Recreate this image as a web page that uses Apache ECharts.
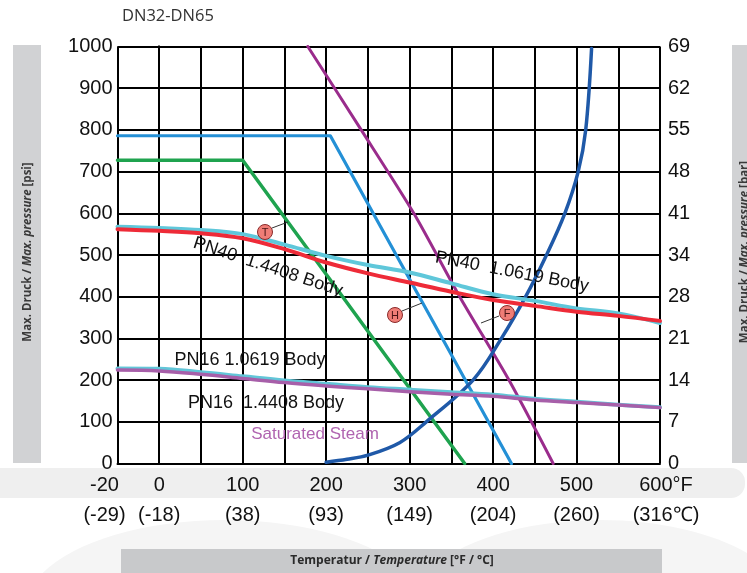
<!DOCTYPE html>
<html><head><meta charset="utf-8">
<script src="https://cdn.jsdelivr.net/npm/echarts@6/dist/echarts.min.js"></script>
<style>html,body{margin:0;padding:0;background:#fff}#c{width:747px;height:573px}</style>
</head><body><div id="c"></div>
<script>
// ---- data (°F / psi) ----
const tempTicksF = [-20, 0, 100, 200, 300, 400, 500, 600];
const tempTicksC = [-29, -18, 38, 93, 149, 204, 260, 316];
const psiTicks = [0, 100, 200, 300, 400, 500, 600, 700, 800, 900, 1000];
const barTicks = [0, 7, 14, 21, 28, 34, 41, 48, 55, 62, 69];

const pnT = [-20, 0, 50, 100, 150, 200, 250, 300, 350, 400, 450, 500, 550, 600];
const pn40_14408 = [562, 558, 552, 540, 514, 482, 456, 434, 412, 392, 378, 364, 354, 342];
const pn40_10619 = [568, 565, 560, 550, 525, 498, 476, 458, 432, 406, 390, 372, 360, 337];
const pn16_10619 = [228, 227, 219, 209, 199, 191, 183, 177, 171, 165, 155, 148, 141, 135];
const pn16_14408 = [224, 222, 214, 204, 194, 186, 179, 172, 166, 161, 152, 146, 140, 134];

const limitT_T = [-20, 205, 422];      // blue limit
const limitT_P = [786, 786, 0];
const limitG_T = [-20, 100, 366];      // green limit
const limitG_P = [727, 727, 0];
const limitP_T = [178, 242, 305, 360, 419, 472]; // purple limit
const limitP_P = [1000, 800, 600, 400, 200, 0];

const steamT = [200, 225, 250, 288, 320, 376, 410, 439, 464, 486, 502, 511, 518];
const steamP = [3, 10, 20, 50, 100, 200, 300, 400, 500, 600, 700, 800, 995];

// axis position: below 0 °F the scale is stretched (-20 sits one grid cell left of 0)
const xp = t => (t < 0 ? t * 2.5 : t);
const pairs = (T, P) => T.map((t, i) => [xp(t), P[i]]);

const chart = echarts.init(document.getElementById('c'), null, {renderer: 'canvas'});
const FONT = '"Liberation Sans", Arial, sans-serif';
const OS = '"Open Sans", sans-serif';

function line(name, T, P, color, width, smooth, z) {
  return {
    name, type: 'line', data: pairs(T, P), showSymbol: false, symbol: 'none',
    smooth: smooth, z: z || 3, silent: true,
    lineStyle: {color, width, cap: 'round', join: 'round'}
  };
}

function tempLabel(i) {
  const last = i === tempTicksF.length - 1;
  const a = tempTicksF[i] + (last ? '°F' : '');
  const b = '(' + tempTicksC[i] + (last ? '℃' : '') + ')';
  return last ? '{r|' + a + '}\n{r|' + b + '}' : a + '\n' + b;
}

const axisTitleRich = {
  b: {fontSize: 11.5, fontWeight: 'bold', fontFamily: OS, fill: '#3a3a3a'},
  i: {fontSize: 11.5, fontWeight: 'bold', fontStyle: 'italic', fontFamily: OS, fill: '#3a3a3a'}
};

const xLabelBase = {margin: 7, color: '#111', fontSize: 20, fontFamily: FONT, lineHeight: 30};

const option = {
  animation: false,
  grid: {left: 117.5, right: 87, top: 46.5, bottom: 109.5, containLabel: false},
  xAxis: [{
    type: 'value', min: -50, max: 600, interval: 50,
    axisLine: {show: true, lineStyle: {color: '#000', width: 2}},
    axisTick: {show: false},
    splitLine: {show: true, lineStyle: {color: '#000', width: 2}},
    axisLabel: Object.assign({}, xLabelBase, {
      showMinLabel: true, showMaxLabel: true,
      rich: {r: {fontSize: 20, fontFamily: FONT, lineHeight: 30, color: '#111', padding: [0, 0, 0, 12]}},
      formatter: function (v) {
        const i = tempTicksF.findIndex(f => xp(f) === v);
        if (i <= 0) return '';
        return tempLabel(i);
      }
    })
  }, {
    // carries only the first (-20 °F) label, which sits slightly left of its grid line
    type: 'value', min: -50, max: 600, interval: 50, position: 'bottom',
    axisLine: {show: false}, axisTick: {show: false}, splitLine: {show: false},
    axisLabel: Object.assign({}, xLabelBase, {
      showMinLabel: true, padding: [0, 26, 0, 0],
      formatter: v => (v === xp(tempTicksF[0]) ? tempLabel(0) : '')
    })
  }],
  yAxis: [{
    type: 'value', min: 0, max: 1000, interval: 100,
    axisLine: {show: true, lineStyle: {color: '#000', width: 2}},
    axisTick: {show: false},
    splitLine: {show: true, lineStyle: {color: '#000', width: 2}},
    axisLabel: {margin: 5, color: '#111', fontSize: 20, fontFamily: FONT, showMinLabel: true, showMaxLabel: true,
      formatter: v => (psiTicks.indexOf(v) >= 0 ? String(v) : '')}
  }, {
    type: 'value', min: 0, max: 1000, interval: 100, position: 'right',
    axisLine: {show: true, lineStyle: {color: '#000', width: 2}},
    axisTick: {show: false},
    splitLine: {show: false},
    axisLabel: {margin: 8, color: '#111', fontSize: 20, fontFamily: FONT, showMinLabel: true, showMaxLabel: true,
      formatter: v => { const i = psiTicks.indexOf(v); return i >= 0 ? String(barTicks[i]) : ''; }}
  }],
  series: [
    line('limit blue', limitT_T, limitT_P, '#2490d6', 3.2, false, 3),
    line('limit green', limitG_T, limitG_P, '#1fa34f', 3.5, false, 3),
    line('limit purple', limitP_T, limitP_P, '#9a2c8c', 3, 0.25, 3),
    line('Saturated Steam', steamT, steamP, '#1f59a8', 3.5, 0.35, 4),
    line('PN40 1.0619 Body', pnT, pn40_10619, '#5fc7da', 4, 0.35, 5),
    line('PN40 1.4408 Body', pnT, pn40_14408, '#ee2b38', 4, 0.35, 6),
    line('PN16 1.0619 Body', pnT, pn16_10619, '#62c6d8', 4, 0.35, 5),
    line('PN16 1.4408 Body', pnT, pn16_14408, '#a75fa9', 3.5, 0.35, 6)
  ],
  graphic: [
    // background decoration
    {type: 'ellipse', z: -11, shape: {cx: 225, cy: 610, rx: 200, ry: 90}, style: {fill: '#f5f5f5'}, silent: true},
    {type: 'ellipse', z: -11, shape: {cx: 600, cy: 610, rx: 190, ry: 90}, style: {fill: '#f5f5f5'}, silent: true},
    {type: 'rect', z: -10, shape: {x: -20, y: 468, width: 765, height: 30, r: 14}, style: {fill: '#efefef'}, silent: true},
    {type: 'rect', z: -9, shape: {x: 13, y: 45, width: 28, height: 418}, style: {fill: '#d1d2d4'}, silent: true},
    {type: 'rect', z: -9, shape: {x: 732, y: 45, width: 20, height: 418}, style: {fill: '#d1d2d4'}, silent: true},
    {type: 'rect', z: -9, shape: {x: 121, y: 549, width: 541, height: 30}, style: {fill: '#c8c9cb'}, silent: true},
    // axis titles
    {type: 'text', x: 28, y: 252, rotation: Math.PI / 2, z: 10,
      style: {text: '{b|Max. Druck / }{i|Max. pressure}{b| [psi]}', align: 'center', verticalAlign: 'middle', rich: axisTitleRich}},
    {type: 'text', x: 745, y: 252, rotation: Math.PI / 2, z: 10,
      style: {text: '{b|Max. Druck / }{i|Max. pressure}{b| [bar]}', align: 'center', verticalAlign: 'middle', rich: axisTitleRich}},
    {type: 'text', x: 392, y: 561, z: 10,
      style: {text: '{b|Temperatur / }{i|Temperature}{b| [°F / °C]}', align: 'center', verticalAlign: 'middle',
        rich: {b: {fontSize: 12, fontWeight: 'bold', fontFamily: OS, fill: '#2a2a2a'},
               i: {fontSize: 12, fontWeight: 'bold', fontStyle: 'italic', fontFamily: OS, fill: '#2a2a2a'}}}},
    {type: 'text', x: 122, y: 16, z: 10,
      style: {text: 'DN32-DN65', align: 'left', verticalAlign: 'middle', fontSize: 16.5, fontFamily: OS, fill: '#333'}},
    // curve annotations
    {type: 'text', x: 268, y: 267, rotation: -0.32, z: 10,
      style: {text: 'PN40  1.4408 Body', align: 'center', verticalAlign: 'middle', fontSize: 18, fontFamily: FONT, fill: '#111'}},
    {type: 'text', x: 512, y: 272, rotation: -0.19, z: 10,
      style: {text: 'PN40  1.0619 Body', align: 'center', verticalAlign: 'middle', fontSize: 18, fontFamily: FONT, fill: '#111'}},
    {type: 'text', x: 250, y: 360, z: 10,
      style: {text: 'PN16 1.0619 Body', align: 'center', verticalAlign: 'middle', fontSize: 18, fontFamily: FONT, fill: '#111'}},
    {type: 'text', x: 266, y: 403, z: 10,
      style: {text: 'PN16  1.4408 Body', align: 'center', verticalAlign: 'middle', fontSize: 18, fontFamily: FONT, fill: '#111'}},
    {type: 'text', x: 315, y: 434, z: 10,
      style: {text: 'Saturated Steam', align: 'center', verticalAlign: 'middle', fontSize: 17, fontFamily: FONT, fill: '#b064b0'}},
    // T / H / F markers
    {type: 'line', z: 11, shape: {x1: 272, y1: 228, x2: 288, y2: 222}, style: {stroke: '#333', lineWidth: 1}},
    {type: 'line', z: 11, shape: {x1: 402, y1: 311, x2: 422, y2: 303}, style: {stroke: '#333', lineWidth: 1}},
    {type: 'line', z: 11, shape: {x1: 499, y1: 316, x2: 481, y2: 323}, style: {stroke: '#333', lineWidth: 1}},
    {type: 'circle', z: 12, shape: {cx: 265, cy: 232, r: 7.5}, style: {fill: '#ef7d76', stroke: '#8a2a2a', lineWidth: 1}},
    {type: 'circle', z: 12, shape: {cx: 395, cy: 315, r: 7.5}, style: {fill: '#ef7d76', stroke: '#8a2a2a', lineWidth: 1}},
    {type: 'circle', z: 12, shape: {cx: 507, cy: 313, r: 7.5}, style: {fill: '#ef7d76', stroke: '#8a2a2a', lineWidth: 1}},
    {type: 'text', z: 13, x: 265, y: 232.5, style: {text: 'T', align: 'center', verticalAlign: 'middle', fontSize: 11, fontFamily: FONT, fill: '#4a1515'}},
    {type: 'text', z: 13, x: 395, y: 315.5, style: {text: 'H', align: 'center', verticalAlign: 'middle', fontSize: 11, fontFamily: FONT, fill: '#4a1515'}},
    {type: 'text', z: 13, x: 507, y: 313.5, style: {text: 'F', align: 'center', verticalAlign: 'middle', fontSize: 11, fontFamily: FONT, fill: '#4a1515'}}
  ]
};
chart.setOption(option);
</script>
</body></html>
